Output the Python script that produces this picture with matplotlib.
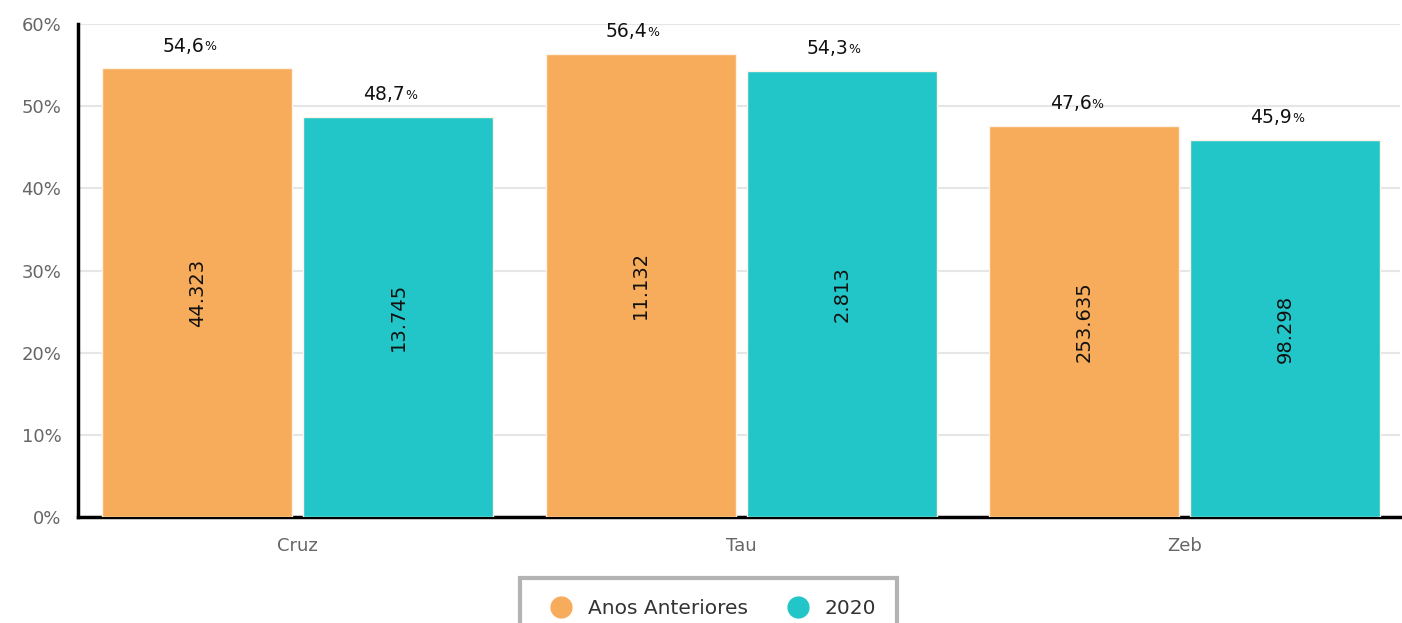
import numpy as np
import matplotlib.pyplot as plt
from matplotlib.lines import Line2D

categories = ['Cruz', 'Tau', 'Zeb']
series_names = ['Anos Anteriores', '2020']
pct_prev = [54.6, 56.4, 47.6]
pct_2020 = [48.7, 54.3, 45.9]
count_prev = ['44.323', '11.132', '253.635']
count_2020 = ['13.745', '2.813', '98.298']
yticks = [0, 10, 20, 30, 40, 50, 60]

colors = ['#F7AC5B', '#23C6C8']

fig = plt.figure(figsize=(14.02, 6.23), dpi=100)
ax = fig.add_axes([0.0556, 0.170, 0.943, 0.7915])

x = np.arange(len(categories))
w = 0.428
off = 0.2265

for vals, counts, dx, c in [(pct_prev, count_prev, -off, colors[0]),
                            (pct_2020, count_2020, off, colors[1])]:
    ax.bar(x + dx, vals, width=w, color=c, edgecolor='#fff3e6', linewidth=1, zorder=3)
    for xi, v, n in zip(x + dx, vals, counts):
        s = f'{v:.1f}'.replace('.', ',')
        ax.annotate(s, (xi, v), xytext=(5, 16), textcoords='offset points',
                    ha='right', va='center', fontsize=13.5, color='#111111', zorder=4)
        ax.annotate('%', (xi, v), xytext=(5, 15.5), textcoords='offset points',
                    ha='left', va='center', fontsize=9, color='#111111', zorder=4)
        ax.text(xi, v / 2, n, rotation=90, ha='center', va='center',
                fontsize=14, color='#111111', zorder=4)

ax.set_xlim(-0.495, 2.485)
ax.set_ylim(0, 60)
ax.set_yticks(yticks)
ax.set_yticklabels([f'{t}%' for t in yticks])
ax.set_xticks(x)
ax.set_xticklabels(categories)
ax.tick_params(axis='both', length=0, labelsize=13, colors='#666666')
ax.tick_params(axis='y', pad=12)
ax.tick_params(axis='x', pad=14)
ax.grid(axis='y', color='#e6e6e6', linewidth=1.5, zorder=0)
for s in ['top', 'right']:
    ax.spines[s].set_visible(False)
ax.spines['left'].set_linewidth(2.5)
ax.spines['bottom'].set_linewidth(2.5)
ax.spines['left'].set_color('black')
ax.spines['bottom'].set_color('black')

handles = [Line2D([0], [0], marker='o', linestyle='', markersize=15,
                  markerfacecolor=c, markeredgecolor=c) for c in colors]
leg = fig.legend(handles, series_names, loc='upper center', bbox_to_anchor=(0.5053, 0.0885),
                 ncol=2, fontsize=14.5, frameon=True, fancybox=False, borderpad=1.05,
                 handletextpad=0.3, columnspacing=1.5, labelcolor='#333333')
leg.get_frame().set_edgecolor('#a0a0a0')
leg.get_frame().set_linewidth(3)

fig.savefig('out.png', dpi=100)
